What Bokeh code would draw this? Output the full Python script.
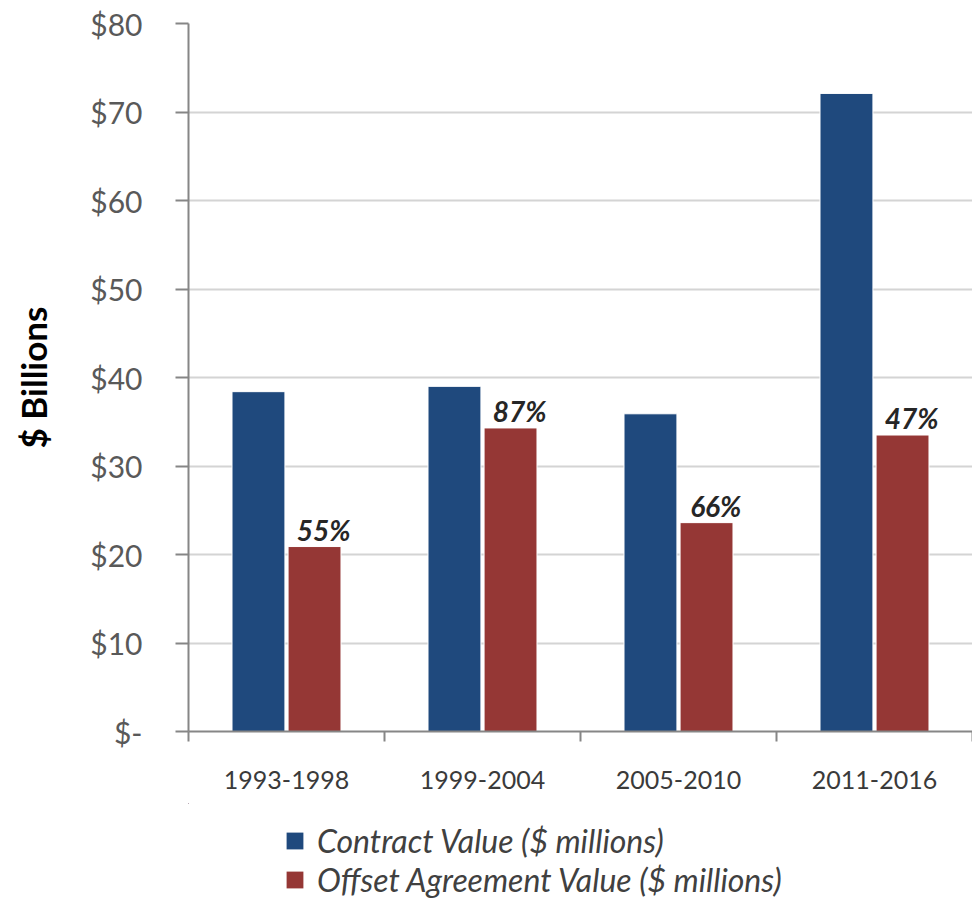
from bokeh.plotting import figure
from bokeh.models import (ColumnDataSource, Range1d, FixedTicker, Legend, LegendItem)
from bokeh.layouts import column
from bokeh.transform import dodge
from bokeh.core.properties import value
from bokeh.embed import file_html
from bokeh.resources import INLINE

# ---- data ----
periods = ["1993-1998", "1999-2004", "2005-2010", "2011-2016"]
contract_value = [38.4, 39.0, 35.9, 72.1]
offset_value = [20.9, 34.3, 23.6, 33.5]
offset_pct = ["55%", "87%", "66%", "47%"]
y_ticks = [0, 10, 20, 30, 40, 50, 60, 70, 80]
y_tick_labels = ["$-", "$10", "$20", "$30", "$40", "$50", "$60", "$70", "$80"]
series_names = ["Contract Value ($ millions)", "Offset Agreement Value ($ millions)"]

BLUE = "#1F497D"
RED = "#953735"
FONT = "Lato"
W = 972

centers = [i + 0.5 for i in range(len(periods))]
src = ColumnDataSource(dict(x=centers, contract=contract_value,
                            offset=offset_value, pct=offset_pct))

p = figure(width=W, height=803, output_backend="svg", toolbar_location=None,
           x_range=Range1d(0, len(periods)), y_range=Range1d(0, 80))
p.min_border_left = 188
p.min_border_right = 0
p.min_border_top = 23
p.min_border_bottom = 72
p.outline_line_color = None
p.background_fill_color = "white"
p.border_fill_color = "white"

b1 = p.vbar(x=dodge("x", -0.143, range=p.x_range), top="contract", width=0.27,
            source=src, fill_color=BLUE, line_color="white", line_width=1)
b2 = p.vbar(x=dodge("x", 0.143, range=p.x_range), top="offset", width=0.27,
            source=src, fill_color=RED, line_color="white", line_width=1)

p.text(x=dodge("x", 0.19, range=p.x_range), y="offset", text="pct", source=src,
       text_font=value(FONT), text_font_size="28px", text_font_style="bold italic",
       text_color="#262626", text_align="center", text_baseline="alphabetic",
       y_offset=-17)

# x axis: labels at category centres, ticks at category boundaries
xa = p.xaxis[0]
xa.ticker = FixedTicker(ticks=centers, minor_ticks=list(range(len(periods) + 1)))
xa.major_label_overrides = {c: lab for c, lab in zip(centers, periods)}
xa.major_tick_out = 0
xa.major_tick_in = 0
xa.minor_tick_out = 10
xa.minor_tick_in = 0
xa.minor_tick_line_color = "#868686"
xa.minor_tick_line_width = 2
xa.axis_line_color = "#868686"
xa.axis_line_width = 2
xa.major_label_text_font = FONT
xa.major_label_text_font_size = "25px"
xa.major_label_text_color = "#3a3a3a"
xa.major_label_standoff = 29

ya = p.yaxis[0]
ya.ticker = FixedTicker(ticks=y_ticks)
ya.major_label_overrides = {t: lab for t, lab in zip(y_ticks, y_tick_labels)}
ya.major_tick_out = 13
ya.major_tick_in = 0
ya.minor_tick_out = 0
ya.minor_tick_in = 0
ya.major_tick_line_color = "#868686"
ya.major_tick_line_width = 2
ya.axis_line_color = "#868686"
ya.axis_line_width = 2
ya.major_label_text_font = FONT
ya.major_label_text_font_size = "30px"
ya.major_label_text_color = "#595959"
ya.major_label_standoff = 33
ya.axis_label = "$ Billions"
ya.axis_label_text_font = FONT
ya.axis_label_text_font_size = "35px"
ya.axis_label_text_font_style = "bold"
ya.axis_label_text_color = "#000000"
ya.axis_label_standoff = 33

p.xgrid.visible = False
p.ygrid.grid_line_color = "#d4d4d4"
p.ygrid.grid_line_width = 2

# ---- legend strip under the chart (its frame aligns with the chart's) ----
LH = 97
lg = figure(width=W, height=LH, output_backend="svg", toolbar_location=None,
            x_range=Range1d(100, 104), y_range=Range1d(-2, -1))
lg.min_border = 0
lg.min_border_left = 188
lg.axis.visible = False
lg.grid.visible = False
lg.outline_line_color = None
# same series, kept far out of this strip's view, so the legend carries their swatches
lr1 = lg.vbar(x="x", top="contract", width=0.27, source=src,
              fill_color=BLUE, line_color=None)
lr2 = lg.vbar(x="x", top="offset", width=0.27, source=src,
              fill_color=RED, line_color=None)

legend = Legend(items=[LegendItem(label=series_names[0], renderers=[lr1]),
                       LegendItem(label=series_names[1], renderers=[lr2])],
                location=(96, 1), orientation="vertical")
legend.label_text_font = FONT
legend.label_text_font_size = "32px"
legend.label_text_font_style = "italic"
legend.label_text_color = "#404040"
legend.glyph_width = 21
legend.glyph_height = 21
legend.label_height = 38
legend.label_standoff = 12
legend.spacing = 0
legend.padding = 0
legend.margin = 0
legend.border_line_alpha = 0
legend.background_fill_alpha = 0
lg.add_layout(legend, "center")

layout = column(p, lg, spacing=0)
open("out.html", "w").write(file_html(layout, INLINE))
